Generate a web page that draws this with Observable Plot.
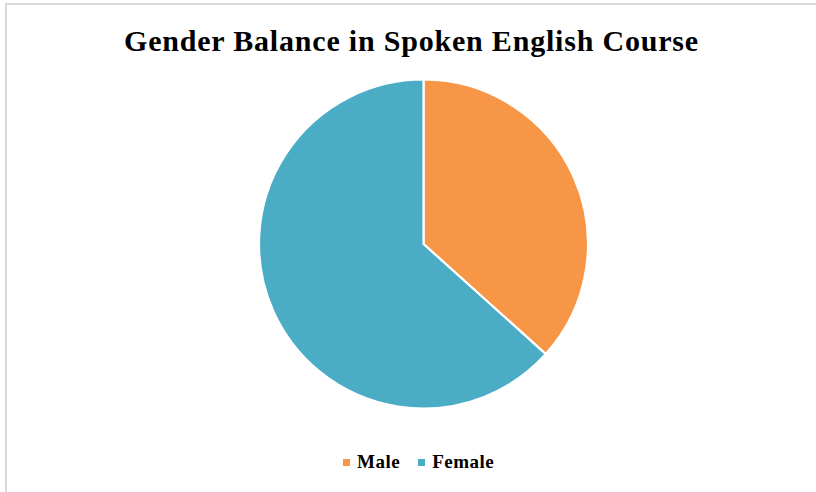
<!DOCTYPE html>
<html>
<head>
<meta charset="utf-8">
<script src="https://cdn.jsdelivr.net/npm/d3@7"></script>
<script src="https://cdn.jsdelivr.net/npm/@observablehq/plot@0.6"></script>
<style>
  html, body { margin: 0; padding: 0; background: #fff; }
  #wrap { position: relative; width: 816px; height: 492px; overflow: hidden; background: #fff; }
  #frame { position: absolute; left: 5px; top: 3px; width: 900px; height: 600px;
           border-top: 2px solid #d9d9d9; border-left: 2px solid #d9d9d9; }
  #title { position: absolute; left: 0; top: 26px; width: 823px; text-align: center;
           font-family: "Liberation Serif", "Times New Roman", serif; font-weight: bold;
           font-size: 30px; line-height: 30px; letter-spacing: 0.8px; color: #000; white-space: nowrap; }
  #chart { position: absolute; left: 0; top: 0; }
  #legend { position: absolute; left: 343px; top: 451px; }
  #legend .lg-swatches { font-family: "Liberation Serif", "Times New Roman", serif !important;
           font-weight: bold !important; font-size: 19px !important; color: #000 !important;
           margin: 0 !important; min-height: 0 !important; display: flex; align-items: center; letter-spacing: 0.5px; }
  #legend .lg-swatch { margin-right: 18px !important; display: inline-flex; align-items: center; }
  #legend .lg-swatch > svg { margin-right: 7px !important; }
</style>
</head>
<body>
<div id="wrap">
  <div id="frame"></div>
  <div id="chart"></div>
  <div id="title">Gender Balance in Spoken English Course</div>
  <div id="legend"></div>
</div>
<script>
// Data
const categories = ["Male", "Female"];
const values = [11, 19];
const colors = ["#F79646", "#4BACC6"];

const data = categories.map((c, i) => ({category: c, value: values[i]}));
const arcs = d3.pie().sort(null).value(d => d.value).startAngle(0).endAngle(2 * Math.PI)(data);

const cx = 423.5, cy = 244, R = 164.5;

function pieMark(index, scales, channels, dimensions, context) {
  const sx = scales.x, sy = scales.y, sc = scales.color;
  const x0 = sx(0), y0 = sy(0);
  const r = Math.abs(sx(1) - sx(0));
  const arc = d3.arc().innerRadius(0).outerRadius(r);
  const g = d3.create("svg:g").attr("transform", `translate(${x0},${y0})`);
  g.selectAll("path")
    .data(arcs)
    .join("path")
    .attr("d", arc)
    .attr("fill", d => sc(d.data.category))
    .attr("stroke", "#fff")
    .attr("stroke-width", 2.2)
    .attr("stroke-linejoin", "round");
  return g.node();
}

const plot = Plot.plot({
  width: 816,
  height: 492,
  margin: 0,
  x: {domain: [-1, 1], range: [cx - R, cx + R], axis: null},
  y: {domain: [-1, 1], range: [cy + R, cy - R], axis: null},
  color: {domain: categories, range: colors, type: "ordinal"},
  style: {background: "transparent"},
  marks: [
    Plot.dot(data, {x: () => 0, y: () => 0, r: 0, fill: "category", stroke: null}),
    pieMark
  ]
});
document.getElementById("chart").appendChild(plot);

const legend = Plot.legend({
  color: {domain: categories, range: colors, type: "ordinal"},
  swatchSize: 7,
  className: "lg"
});
document.getElementById("legend").appendChild(legend);
</script>
</body>
</html>
